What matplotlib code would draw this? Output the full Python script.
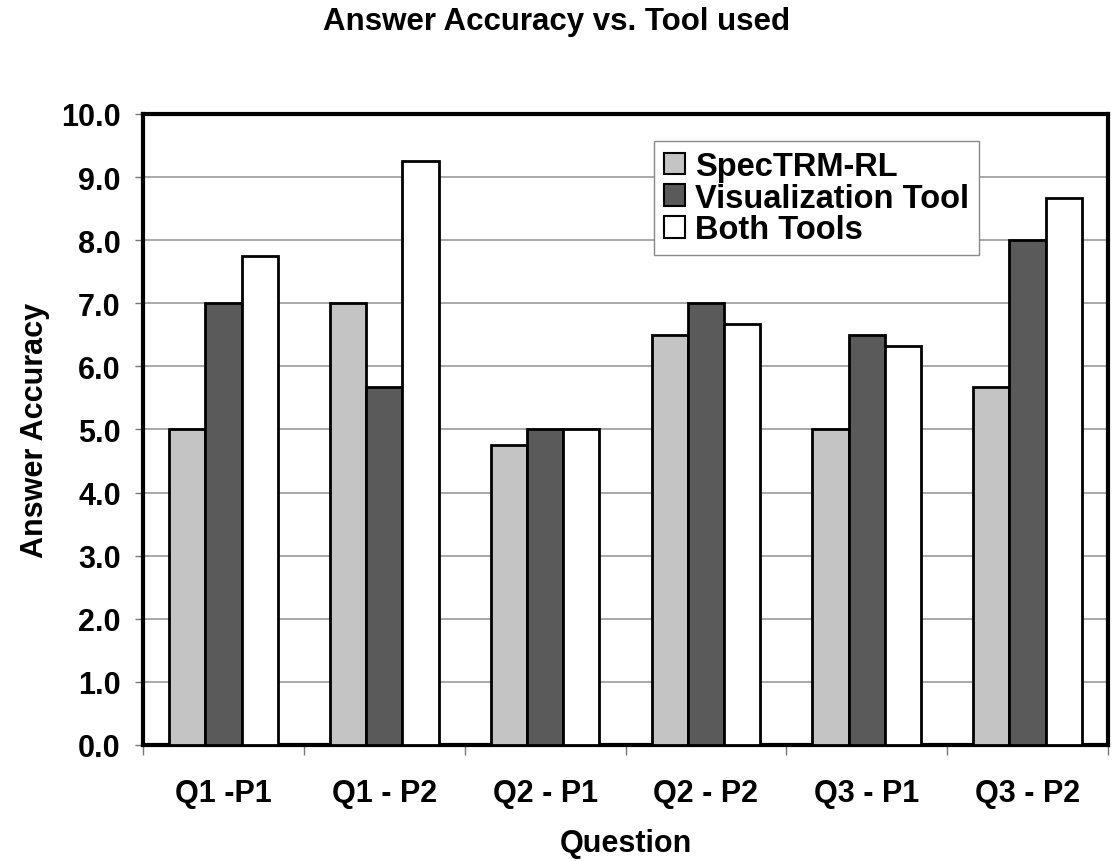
import numpy as np
import matplotlib.pyplot as plt

plt.rcParams['font.family'] = ['Liberation Sans', 'DejaVu Sans']
plt.rcParams['font.weight'] = 'bold'

questions = ["Q1 -P1", "Q1 - P2", "Q2 - P1", "Q2 - P2", "Q3 - P1", "Q3 - P2"]
spectrm = [5.0, 7.0, 4.75, 6.5, 5.0, 5.67]
vis_tool = [7.0, 5.67, 5.0, 7.0, 6.5, 8.0]
both_tools = [7.75, 9.25, 5.0, 6.67, 6.33, 8.67]

series = [
    ("SpecTRM-RL", spectrm, "#c4c4c4"),
    ("Visualization Tool", vis_tool, "#5a5a5a"),
    ("Both Tools", both_tools, "#ffffff"),
]

fig = plt.figure(figsize=(11.13, 8.62), dpi=100)
ax = fig.add_axes([0.1285, 0.1346, 0.867, 0.732])

x = np.arange(len(questions))
w = 0.225
for i, (name, vals, col) in enumerate(series):
    ax.bar(x + (i - 1) * w, vals, width=w, color=col, edgecolor="black",
           linewidth=2, label=name, zorder=3)

ax.set_xlim(-0.5, len(questions) - 0.5)
ax.set_ylim(0, 10)
yt = np.arange(0, 10.1, 1.0)
ax.set_yticks(yt)
ax.set_yticklabels([f"{v:.1f}" for v in yt], fontsize=22, fontweight="bold")
ax.yaxis.grid(True, color="#9a9a9a", linewidth=1.2, zorder=0)

# category labels centred, ticks at group boundaries
ax.set_xticks(x)
ax.set_xticklabels(questions, fontsize=22, fontweight="bold")
ax.tick_params(axis="x", length=0, pad=24)
ax.set_xticks(np.arange(-0.5, len(questions), 1.0), minor=True)
ax.tick_params(axis="x", which="minor", length=7, width=1, color="#777777")
ax.tick_params(axis="y", length=6, width=1, color="#777777", pad=10)

for s in ax.spines.values():
    s.set_linewidth(3)

ax.set_xlabel("Question", fontsize=22, fontweight="bold", labelpad=14)
ax.set_ylabel("Answer Accuracy", fontsize=22, fontweight="bold", labelpad=8)
fig.text(0.5, 1 - 22 / 862, "Answer Accuracy vs. Tool used", fontsize=22.5,
         fontweight="bold", ha="center", va="center")

leg = ax.legend(loc="upper right", bbox_to_anchor=(0.866, 0.957), fontsize=23.5,
                frameon=True, fancybox=False, edgecolor="#888888", framealpha=1,
                handlelength=0.65, handleheight=0.65, handletextpad=0.3,
                borderpad=0.3, labelspacing=0.02, borderaxespad=0)
leg.get_frame().set_linewidth(1)
for h in leg.legend_handles:
    h.set_linewidth(1.5)

fig.savefig("out.png", dpi=100)
